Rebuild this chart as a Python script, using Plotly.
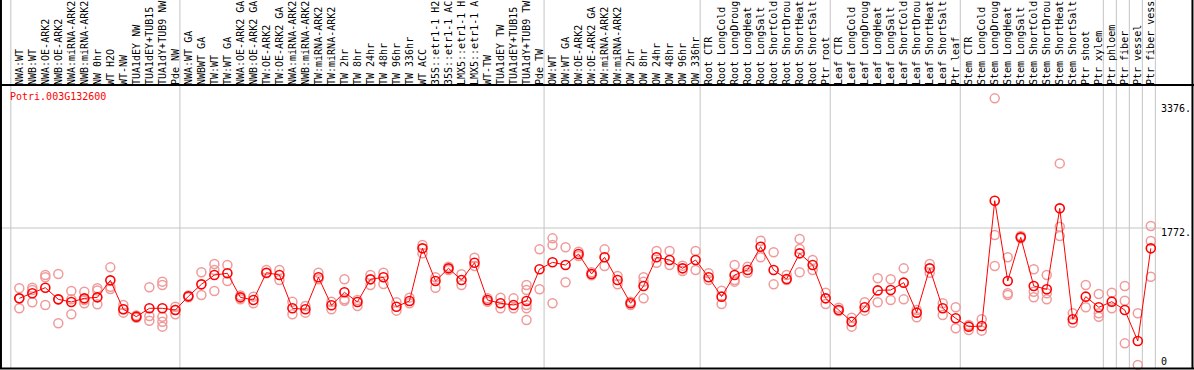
import plotly.graph_objects as go

title_text = "Potri.003G132600"

categories = [
    "NWA:WT", "NWB:WT", "NWA:OE-ARK2", "NWB:OE-ARK2", "NWA:miRNA-ARK2", "NWB:miRNA-ARK2",
    "NW 0hr", "WT H2O", "WT-NW", "TUA1dEY NW", "TUA1dEY+TUB15", "TUA1dY+TUB9 NW", "Pde NW",
    "NWA:WT GA", "NWBWT GA", "TW:WT", "TW:WT GA", "NWA:OE-ARK2 GA", "NWB:OE-ARK2 GA",
    "TW:OE-ARK2", "TW:OE-ARK2 GA", "NWA:miRNA-ARK2", "NWB:miRNA-ARK2", "TW:miRNA-ARK2",
    "TW:miRNA-ARK2", "TW 2hr", "TW 8hr", "TW 24hr", "TW 48hr", "TW 96hr", "TW 336hr",
    "WT ACC", "35S::etr1-1 H2", "35S::etr1-1 AC", "LMX5::etr1-1 H", "LMX5::etr1-1 A",
    "WT-TW", "TUA1dEY TW", "TUA1dEY+TUB15", "TUA1dY+TUB9 TW", "Pde TW",
    "OW:WT", "OW:WT GA", "OW:OE-ARK2", "OW:OE-ARK2 GA", "OW:miRNA-ARK2", "OW:miRNA-ARK2",
    "OW 2hr", "OW 8hr", "OW 24hr", "OW 48hr", "OW 96hr", "OW 336hr",
    "Root CTR", "Root LongCold", "Root LongDroug", "Root LongHeat", "Root LongSalt",
    "Root ShortCold", "Root ShortDrou", "Root ShortHeat", "Root ShortSalt", "Ptr root",
    "Leaf CTR", "Leaf LongCold", "Leaf LongDroug", "Leaf LongHeat", "Leaf LongSalt",
    "Leaf ShortCold", "Leaf ShortDrou", "Leaf ShortHeat", "Leaf ShortSalt", "Ptr leaf",
    "Stem CTR", "Stem LongCold", "Stem LongDroug", "Stem LongHeat", "Stem LongSalt",
    "Stem ShortCold", "Stem ShortDrou", "Stem ShortHeat", "Stem ShortSalt", "Ptr shoot",
    "Ptr xylem", "Ptr phloem", "Ptr fiber", "Ptr vessel", "Ptr fiber vess",
]

group_sizes = [13, 28, 12, 10, 10, 11, 1, 1, 1, 1]

mean_values = [
    862, 927, 1000, 849, 815, 862, 875, 1095, 720, 625, 733, 733, 711,
    888, 1043, 1164, 1186, 875, 841, 1194, 1164, 733, 720, 1134, 772, 940, 815, 1108,
    1134, 754, 828, 1509, 1086, 1250, 1099, 1323, 841, 798, 776, 828, 1238,
    1328, 1293, 1436, 1177, 1393, 1099, 798, 1022, 1393, 1358, 1250, 1358,
    1134, 884, 1164, 1229, 1530, 1229, 1112, 1444, 1293, 862,
    711, 560, 746, 965, 970, 1065, 677, 1250, 733, 604,
    496, 504, 2125, 1086, 1651, 1022, 979, 2026, 591, 884, 746,
    819, 711, 310, 1509,
]

replicate_values = [
    [992, 862, 733], [1000, 970, 811], [1164, 1134, 776], [1177, 849, 539],
    [956, 849, 656], [948, 840, 798], [992, 965, 785], [1263, 1013, 983],
    [776, 720, 677], [640, 625, 612], [1005, 634, 573], [1078, 1035, 625, 560, 496],
    [754, 711, 656],
    [900, 875], [1199, 905], [1306, 1229, 957], [1293, 1086], [900, 850], [884, 798],
    [1229, 1186], [1229, 1099], [819, 656], [763, 677], [1194, 1108], [819, 720],
    [1108, 849, 832], [841, 763], [1164, 1035], [1194, 1048], [811, 703], [871, 798],
    [1552, 1444], [1134, 1000], [1272, 1229], [1173, 1035], [1388, 1280], [862, 819],
    [871, 733], [862, 733], [1035, 970, 776, 733, 582], [1496, 979],
    [1638, 1552, 798], [1522, 1070], [1466, 1409], [1199, 1160], [1496, 1280],
    [1151, 1043], [819, 776], [1134, 1078, 862], [1474, 1323], [1474, 1293],
    [1285, 1216], [1474, 1229],
    [1186, 1099], [961, 789], [1293, 1099, 1078], [1272, 1194], [1608, 1393],
    [1458, 1043], [1164, 1099], [1630, 1500, 1199], [1358, 1229], [935, 789],
    [741, 698], [612, 496], [811, 703], [1121, 811], [1108, 841], [1250, 849],
    [711, 617], [1306, 1194], [798, 647], [746, 475],
    [517, 453], [591, 444], [3449, 1681, 1280], [1393, 927, 905], [1668, 1640],
    [1238, 948, 876], [1164, 927, 849], [2608, 1789, 1668], [669, 547], [1035, 746],
    [918, 669, 625],
    [935, 733], [1022, 832, 280], [669, 0], [1798, 1604, 1142],
]

y_tick_values = [0, 1772, 3376]
y_tick_labels = ["0", "1772.", "3376."]

MONO = "DejaVu Sans Mono"
x_idx = list(range(len(categories)))

rep_x, rep_y = [], []
for i, reps in enumerate(replicate_values):
    for v in reps:
        rep_x.append(i)
        rep_y.append(v)

fig = go.Figure()
fig.add_trace(go.Scatter(
    x=rep_x, y=rep_y, mode="markers",
    marker=dict(symbol="circle-open", size=9, color="#F09A9A", line=dict(width=1.5, color="#F09A9A")),
    showlegend=False, cliponaxis=False,
))
fig.add_trace(go.Scatter(
    x=x_idx, y=mean_values, mode="lines+markers",
    line=dict(color="#FF0000", width=1),
    marker=dict(symbol="circle-open", size=9, color="#FF0000", line=dict(width=1.6, color="#FF0000")),
    showlegend=False, cliponaxis=False,
))

shapes = []
starts = [0]
for g in group_sizes:
    starts.append(starts[-1] + g)
for s in starts:
    shapes.append(dict(type="line", xref="x", yref="paper", x0=s - 0.65, x1=s - 0.65,
                       y0=0, y1=1.31, line=dict(color="#C4C4C4", width=1), layer="below"))
shapes.append(dict(type="line", xref="paper", yref="y", x0=-0.001, x1=1.005,
                   y0=y_tick_values[1], y1=y_tick_values[1],
                   line=dict(color="#C4C4C4", width=1), layer="below"))
frame = dict(color="black", width=2)
shapes.append(dict(type="line", xref="paper", yref="paper", x0=-0.0009, x1=-0.0009, y0=0, y1=1.31, line=frame))
shapes.append(dict(type="line", xref="paper", yref="paper", x0=1.0316, x1=1.0316, y0=0, y1=1.31, line=frame))
shapes.append(dict(type="line", xref="paper", yref="paper", x0=-0.002, x1=1.033, y0=0.0018, y1=0.0018, line=frame))
shapes.append(dict(type="line", xref="paper", yref="paper", x0=-0.002, x1=1.033, y0=1.0035, y1=1.0035, line=frame))

annotations = [dict(text=title_text, xref="paper", yref="paper", x=0.0055, y=0.962,
                    xanchor="left", yanchor="middle", showarrow=False,
                    font=dict(family=MONO, size=10, color="#FF0000"))]
for v, t in zip(y_tick_values, y_tick_labels):
    annotations.append(dict(text=t, xref="paper", yref="y", x=1.006, y=v,
                            xanchor="left", yanchor="middle", showarrow=False,
                            xshift=-4, yshift=(3 if v == 0 else -4),
                            font=dict(family=MONO, size=10, color="black")))

fig.update_layout(
    width=1194, height=370, autosize=False,
    margin=dict(l=2, r=38, t=86, b=1, pad=0),
    paper_bgcolor="white", plot_bgcolor="white",
    shapes=shapes, annotations=annotations,
    xaxis=dict(range=[-1.33, 87.40], tickmode="array", tickvals=x_idx, ticktext=categories,
               side="top", tickangle=-90, ticks="", showgrid=False, zeroline=False,
               showline=False, tickfont=dict(family=MONO, size=10, color="black")),
    yaxis=dict(range=[-52, 3609], showticklabels=False, showgrid=False, zeroline=False,
               showline=False, ticks=""),
)

fig.write_html("out.html", config={"displayModeBar": False},
               post_script="document.body.style.margin='0px';document.body.style.overflow='hidden';")
